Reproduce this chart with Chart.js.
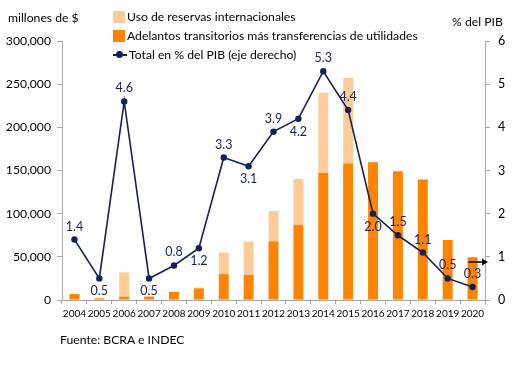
<!DOCTYPE html>
<html>
<head>
<meta charset="utf-8">
<script src="https://cdn.jsdelivr.net/npm/chart.js@4.4.1/dist/chart.umd.min.js"></script>
<style>
  html, body { margin: 0; padding: 0; background: #fff; }
  #wrap { position: relative; width: 532px; height: 378px; font-family: Lato, "Open Sans", sans-serif; color: #000; }
  #myChart { position: absolute; left: 0; top: 0; }
  .txt { position: absolute; white-space: nowrap; font-size: 12.2px; line-height: 16px; }
  .legend { position: absolute; left: 113px; top: 7px; font-size: 12.2px; }
  .legend div { height: 19px; line-height: 19px; white-space: nowrap; display: flex; align-items: center; }
  .sq { display: inline-block; width: 12px; height: 12px; margin-right: 2px; }
  .ln { display: inline-block; width: 14px; height: 2px; background: #14215a; position: relative; margin-right: 2px; }
  .ln::after { content: ""; position: absolute; left: 3px; top: -3px; width: 7px; height: 7px; border-radius: 50%; background: #14215a; }
</style>
</head>
<body>
<div id="wrap">
  <canvas id="myChart" width="532" height="378"></canvas>
  <div class="txt" style="left:8px; top:10px;">millones de $</div>
  <div class="txt" style="left:452px; top:14px;">% del PIB</div>
  <div class="txt" style="left:60px; top:332px;">Fuente: BCRA e INDEC</div>
  <div class="legend">
    <div><span class="sq" style="background:#ffcc99"></span>Uso de reservas internacionales</div>
    <div><span class="sq" style="background:#ff8400"></span>Adelantos transitorios más transferencias de utilidades</div>
    <div><span class="ln"></span>Total en % del PIB (eje derecho)</div>
  </div>
</div>
<script>
const years = ["2004", "2005", "2006", "2007", "2008", "2009", "2010", "2011", "2012", "2013", "2014", "2015", "2016", "2017", "2018", "2019", "2020"];
// millones de $
const adelantos = [7000, 2000, 4000, 4000, 9500, 13500, 30000, 29000, 68000, 87000, 147000, 158000, 159500, 149000, 139500, 69500, 49500];
const reservas = [0, 0, 28000, 0, 0, 1000, 25000, 38500, 35000, 53000, 93000, 99000, 500, 0, 0, 0, 0];
// % del PIB
const totalPib = [1.4, 0.5, 4.6, 0.5, 0.8, 1.2, 3.3, 3.1, 3.9, 4.2, 5.3, 4.4, 2.0, 1.5, 1.1, 0.5, 0.3];
// where the label sits: 1 above the point, -1 below
const labelPos = [1, -1, 1, -1, 1, -1, 1, -1, 1, -1, 1, 1, -1, 1, 1, 1, 1];

const navy = "#14215a";
const axisGray = "#a6a6a6";
const font = "Lato, 'Open Sans', sans-serif";

const pointLabels = {
  id: "pointLabels",
  afterDatasetsDraw(chart) {
    const ctx = chart.ctx;
    const meta = chart.getDatasetMeta(2);
    ctx.save();
    ctx.font = "12.5px " + font;
    ctx.fillStyle = navy;
    ctx.textAlign = "center";
    ctx.textBaseline = "middle";
    meta.data.forEach((p, i) => {
      ctx.fillText(totalPib[i].toFixed(1), p.x, p.y - labelPos[i] * 13);
    });
    // small arrow pointing to the right axis
    const xs = chart.scales.x;
    const y1 = chart.scales.y1;
    const ay = y1.getPixelForValue(0.88);
    const ax0 = xs.getPixelForValue(years.length - 1) - 4;
    const ax1 = chart.chartArea.right + 3;
    ctx.strokeStyle = "#000";
    ctx.fillStyle = "#000";
    ctx.lineWidth = 1.5;
    ctx.beginPath();
    ctx.moveTo(ax0, ay);
    ctx.lineTo(ax1 - 5, ay);
    ctx.stroke();
    ctx.beginPath();
    ctx.moveTo(ax1, ay);
    ctx.lineTo(ax1 - 6, ay - 3.5);
    ctx.lineTo(ax1 - 6, ay + 3.5);
    ctx.closePath();
    ctx.fill();
    ctx.restore();
  },
};

const chartElement = document.getElementById("myChart");
const myChart = new Chart(chartElement, {
  type: "bar",
  data: {
    labels: years,
    datasets: [
      {
        label: "Adelantos transitorios más transferencias de utilidades",
        data: adelantos,
        backgroundColor: "#ff8400",
        stack: "s",
        yAxisID: "y",
        order: 2,
        barPercentage: 0.4,
        categoryPercentage: 1,
      },
      {
        label: "Uso de reservas internacionales",
        data: reservas,
        backgroundColor: "#ffcc99",
        stack: "s",
        yAxisID: "y",
        order: 2,
        barPercentage: 0.4,
        categoryPercentage: 1,
      },
      {
        type: "line",
        label: "Total en % del PIB (eje derecho)",
        data: totalPib,
        borderColor: navy,
        backgroundColor: navy,
        borderWidth: 1.6,
        pointRadius: 3.2,
        pointBackgroundColor: navy,
        pointBorderWidth: 0,
        tension: 0,
        yAxisID: "y1",
        order: 0,
      },
    ],
  },
  options: {
    responsive: false,
    animation: false,
    layout: { padding: { top: 41, left: 0, right: 0, bottom: 0 } },
    plugins: {
      legend: { display: false },
      tooltip: { enabled: false },
    },
    scales: {
      x: {
        stacked: true,
        grid: { display: true, drawOnChartArea: false, tickLength: 4, color: axisGray, offset: true },
        border: { color: axisGray },
        ticks: { autoSkip: false, maxRotation: 0, color: "#000", font: { family: font, size: 10 }, padding: 4 },
        afterFit(s) { s.height = 78; },
      },
      y: {
        stacked: true,
        position: "left",
        min: 0,
        max: 300000,
        ticks: {
          stepSize: 50000,
          color: "#000",
          font: { family: font, size: 12.2 },
          padding: 6,
          callback: (v) => v.toLocaleString("en-US"),
        },
        grid: { display: true, drawOnChartArea: false, tickLength: 5, color: axisGray },
        border: { color: axisGray },
        afterFit(s) { s.width = 62; },
      },
      y1: {
        position: "right",
        min: 0,
        max: 6,
        ticks: { stepSize: 1, color: "#000", font: { family: font, size: 12.5 }, padding: 8 },
        grid: { display: true, drawOnChartArea: false, tickLength: 5, color: axisGray },
        border: { color: axisGray },
        afterFit(s) { s.width = 47; },
      },
    },
  },
  plugins: [pointLabels],
});
</script>
</body>
</html>
